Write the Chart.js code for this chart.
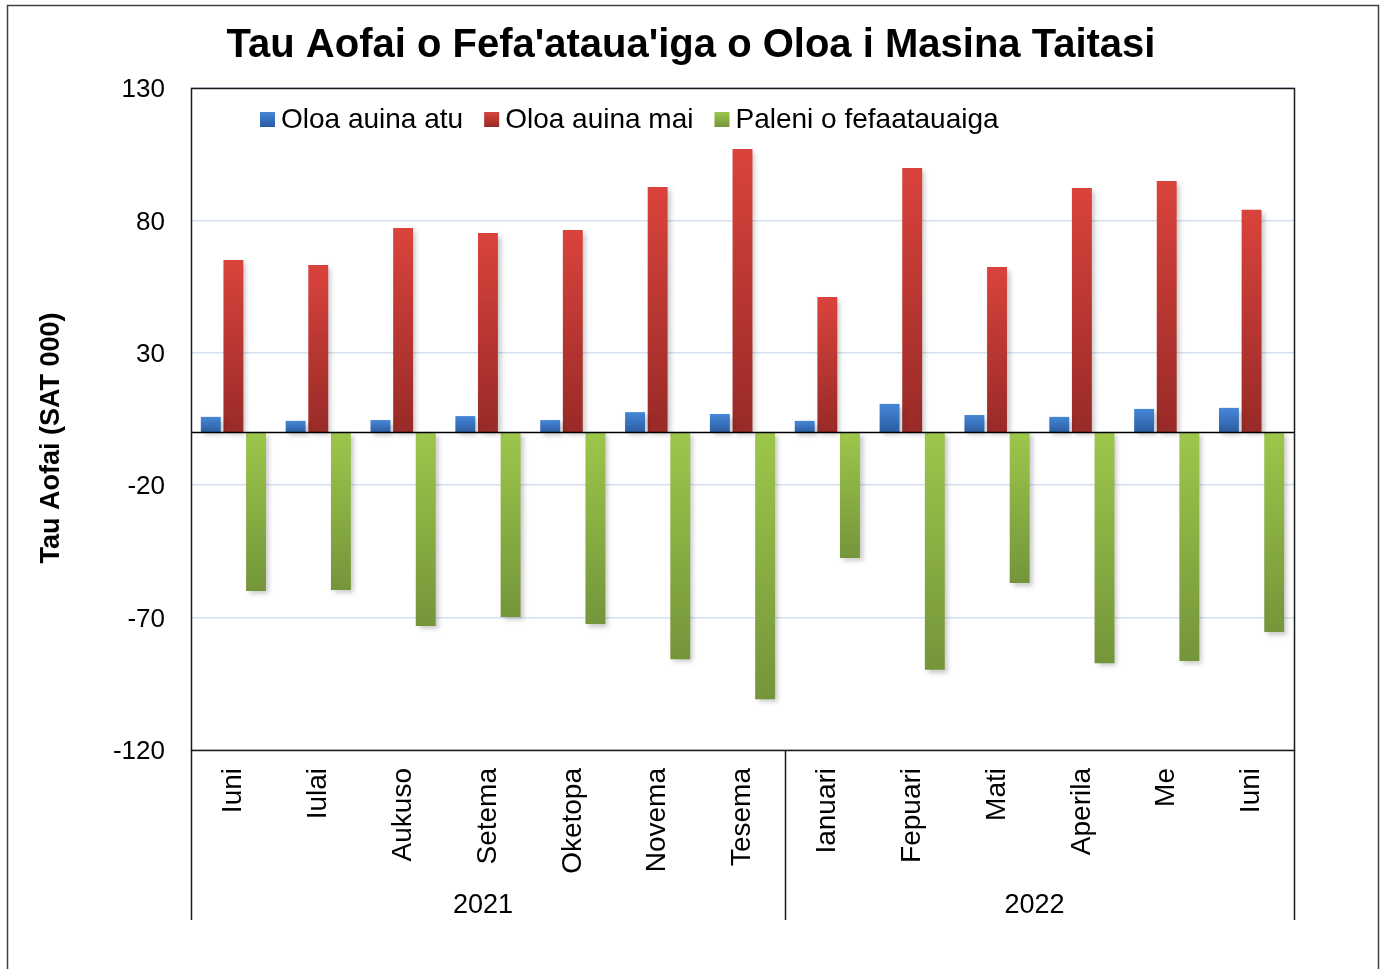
<!DOCTYPE html>
<html>
<head>
<meta charset="utf-8">
<script src="https://cdn.jsdelivr.net/npm/chart.js@4.4.1/dist/chart.umd.min.js"></script>
<style>
  html, body { margin: 0; padding: 0; background: #fff; }
  canvas { display: block; }
</style>
</head>
<body>
<canvas id="chart" width="1382" height="969"></canvas>
<script>
// Tau Aofai o Fefa'ataua'iga - masina taitasi (SAT 000)
const months = ['Iuni', 'Iulai', 'Aukuso', 'Setema', 'Oketopa', 'Novema', 'Tesema',
                'Ianuari', 'Fepuari', 'Mati', 'Aperila', 'Me', 'Iuni'];
const years = ['2021', '2022'];
const yearSpans = [7, 6];

const exportsData = [5.8, 4.3, 4.6, 6.1, 4.6, 7.6, 6.9, 4.3, 10.7, 6.5, 5.8, 8.8, 9.2];
const importsData = [65.0, 63.2, 77.1, 75.2, 76.4, 92.6, 107.0, 51.1, 99.8, 62.4, 92.2, 94.9, 84.0];
const balanceData = [-60.0, -59.6, -73.2, -69.8, -72.4, -85.7, -100.8, -47.5, -89.7, -56.9, -87.2, -86.4, -75.4];

const yTicks = [-120, -70, -20, 30, 80, 130];

const titleText = "Tau Aofai o Fefa'ataua'iga o Oloa i Masina Taitasi";
const yTitleText = 'Tau Aofai (SAT 000)';

const FONT = "'Liberation Sans', Arial, sans-serif";

const colors = {
  blue: ['#4687d8', '#2a5b9f'],
  red: ['#da433c', '#982a27'],
  green: ['#9dc64b', '#74953a']
};

// degrade vertical par barre : clair en haut, fonce en bas
function barFill(pair) {
  return (ctx) => {
    const chart = ctx.chart;
    const y = chart.scales.y;
    if (!chart.chartArea || !y || ctx.type !== 'data') return pair[0];
    const a = y.getPixelForValue(ctx.raw);
    const b = y.getPixelForValue(0);
    const g = chart.ctx.createLinearGradient(0, Math.min(a, b), 0, Math.max(a, b) + 1);
    g.addColorStop(0, pair[0]);
    g.addColorStop(1, pair[1]);
    return g;
  };
}

const shadowPlugin = {
  id: 'shadow',
  beforeDatasetsDraw(chart) {
    const c = chart.ctx;
    c.save();
    c.shadowColor = 'rgba(0,0,0,0.22)';
    c.shadowBlur = 5;
    c.shadowOffsetX = 3;
    c.shadowOffsetY = 3;
  },
  afterDatasetsDraw(chart) {
    chart.ctx.restore();
  }
};

const decorPlugin = {
  id: 'decor',
  afterDraw(chart) {
    const c = chart.ctx;
    const { left, right, top, bottom } = chart.chartArea;
    const x = chart.scales.x;
    const y = chart.scales.y;

    c.save();
    // titre centre sur toute la largeur
    c.fillStyle = '#000';
    c.font = `bold 40px ${FONT}`;
    c.textAlign = 'center';
    c.textBaseline = 'middle';
    c.fillText(titleText, chart.width / 2, 46);

    // titre de l'axe Y
    c.save();
    c.translate(52, (top + bottom) / 2 + 19);
    c.rotate(-Math.PI / 2);
    c.font = `bold 27px ${FONT}`;
    c.fillText(yTitleText, 0, 0);
    c.restore();

    // ligne zero
    const y0 = Math.round(y.getPixelForValue(0)) + 0.5;
    c.strokeStyle = '#000';
    c.lineWidth = 1.5;
    c.beginPath();
    c.moveTo(left, y0);
    c.lineTo(right, y0);
    c.stroke();

    // cadre du graphique
    c.strokeStyle = '#1a1a1a';
    c.lineWidth = 1.5;
    c.strokeRect(left + 0.5, top + 0.5, right - left, bottom - top);

    // axe a deux niveaux : separateurs et annees
    const lineEnd = bottom + 170;
    let idx = 0;
    const bounds = [x.getPixelForValue(-0.5)];
    yearSpans.forEach(n => {
      idx += n;
      bounds.push(x.getPixelForValue(idx - 0.5));
    });
    c.beginPath();
    bounds.forEach(bx => {
      const px = Math.round(bx) + 0.5;
      c.moveTo(px, bottom);
      c.lineTo(px, lineEnd);
    });
    c.stroke();

    c.fillStyle = '#000';
    c.font = `27px ${FONT}`;
    years.forEach((yr, i) => {
      c.fillText(yr, (bounds[i] + bounds[i + 1]) / 2 - 5, bottom + 156);
    });

    // legende dans la zone du graphique
    c.textAlign = 'left';
    c.font = `28px ${FONT}`;
    let lx = left + 69;
    const ly = top + 31;
    chart.data.datasets.forEach(ds => {
      const pair = ds.legendColors;
      const g = c.createLinearGradient(0, ly - 7, 0, ly + 8);
      g.addColorStop(0, pair[0]);
      g.addColorStop(1, pair[1]);
      c.fillStyle = g;
      c.fillRect(lx, ly - 7, 15, 15);
      c.fillStyle = '#000';
      c.fillText(ds.label, lx + 21, ly + 1);
      lx += 21 + c.measureText(ds.label).width + 21;
    });

    // bordure exterieure
    c.strokeStyle = '#404040';
    c.lineWidth = 1.5;
    c.strokeRect(7.5, 5.5, 1371, 975);
    c.restore();
  }
};

new Chart(document.getElementById('chart'), {
  type: 'bar',
  data: {
    labels: months,
    datasets: [
      { label: 'Oloa auina atu', data: exportsData, backgroundColor: barFill(colors.blue), legendColors: colors.blue },
      { label: 'Oloa auina mai', data: importsData, backgroundColor: barFill(colors.red), legendColors: colors.red },
      { label: 'Paleni o fefaatauaiga', data: balanceData, backgroundColor: barFill(colors.green), legendColors: colors.green }
    ]
  },
  options: {
    responsive: false,
    animation: false,
    devicePixelRatio: 1,
    layout: { padding: { left: 0, right: 88, top: 88, bottom: 0 } },
    datasets: {
      bar: { categoryPercentage: 0.8, barPercentage: 0.88, borderWidth: 0 }
    },
    plugins: {
      legend: { display: false },
      tooltip: { enabled: false },
      title: { display: false }
    },
    scales: {
      x: {
        grid: { display: false, drawTicks: false },
        border: { display: false },
        ticks: {
          color: '#000',
          font: { family: FONT, size: 28 },
          minRotation: 90,
          maxRotation: 90,
          autoSkip: false,
          padding: 18
        },
        afterFit: s => { s.height = 219; }
      },
      y: {
        min: -120,
        max: 130,
        afterBuildTicks: s => { s.ticks = yTicks.map(v => ({ value: v })); },
        grid: { color: '#d5e1f0', lineWidth: 1.5, drawTicks: false },
        border: { display: false },
        ticks: {
          color: '#000',
          font: { family: FONT, size: 26 },
          padding: 26,
          labelOffset: 2
        },
        afterFit: s => { s.width = 191; }
      }
    }
  },
  plugins: [shadowPlugin, decorPlugin]
});
</script>
</body>
</html>
